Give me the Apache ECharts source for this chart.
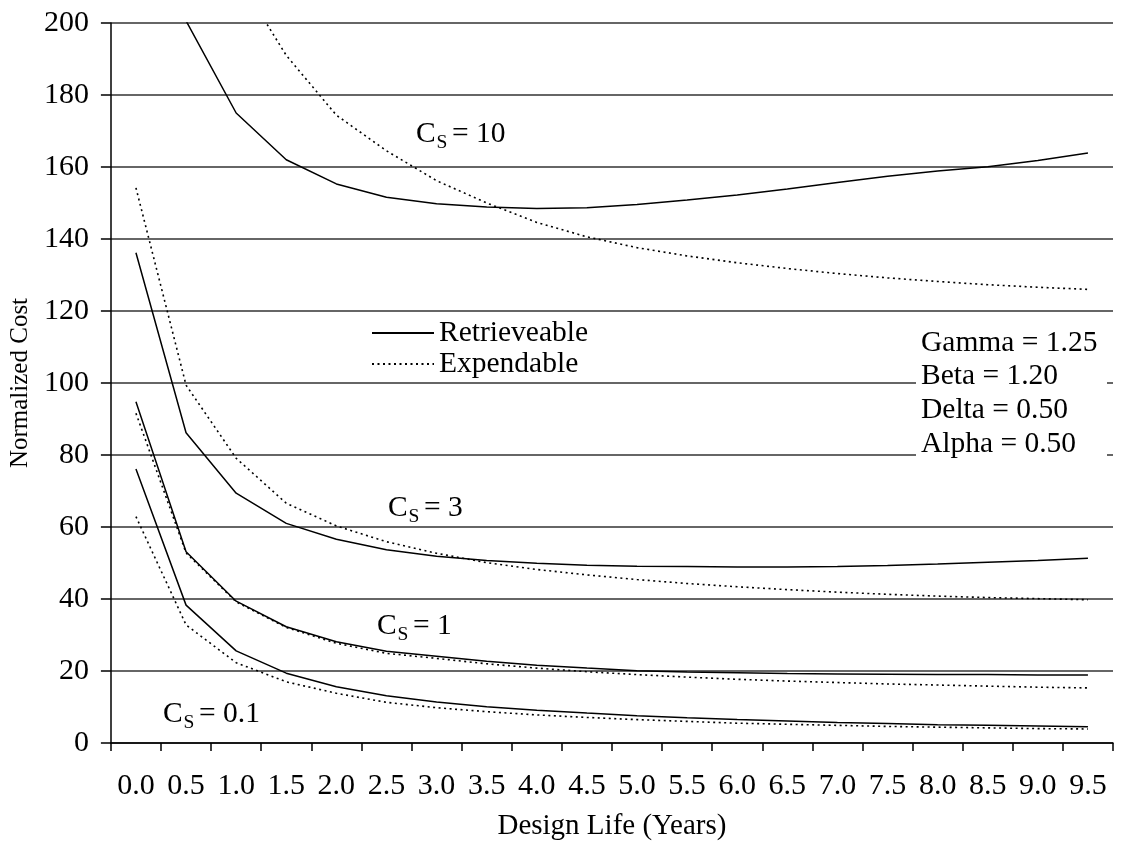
<!DOCTYPE html>
<html>
<head>
<meta charset="utf-8">
<title>Normalized Cost vs Design Life</title>
<script src="https://cdn.jsdelivr.net/npm/echarts@6/dist/echarts.min.js"></script>
<style>
    html, body { margin: 0; padding: 0; background: #fff; }
    #chart1 { width: 1131px; height: 846px; }
</style>
</head>
<body>
<div id="chart1"></div>
<script>
// design life categories (years)
var years = ['0.0', '0.5', '1.0', '1.5', '2.0', '2.5', '3.0', '3.5', '4.0', '4.5',
    '5.0', '5.5', '6.0', '6.5', '7.0', '7.5', '8.0', '8.5', '9.0', '9.5'];

// Cs = 10
var retr10 = [392, 200.6, 175, 162, 155.3, 151.6, 149.8, 148.9, 148.5, 148.7,
    149.6, 150.8, 152.2, 153.9, 155.7, 157.4, 158.9, 160.1, 161.8, 163.9];
var expe10 = [560, 262, 213.5, 191, 174.4, 164.5, 156.2, 150, 144.6, 140.6,
    137.6, 135.3, 133.4, 131.8, 130.4, 129.2, 128.2, 127.3, 126.6, 126.0];
// Cs = 3
var retr3 = [136.2, 86.2, 69.4, 61.0, 56.6, 53.7, 51.9, 50.7, 49.9, 49.4,
    49.1, 49.0, 48.9, 48.9, 49.0, 49.3, 49.7, 50.2, 50.7, 51.3];
var expe3 = [154.2, 99.4, 79.1, 66.6, 60.3, 55.9, 52.7, 50.1, 48.2, 46.7,
    45.4, 44.3, 43.4, 42.6, 41.9, 41.3, 40.8, 40.4, 40.1, 39.8];
// Cs = 1
var retr1 = [94.8, 53.1, 39.4, 32.3, 28.1, 25.5, 24.1, 22.7, 21.6, 20.8,
    20.1, 19.7, 19.5, 19.3, 19.2, 19.1, 19.0, 19.0, 18.9, 18.9];
var expe1 = [91.6, 52.8, 39.2, 32.1, 27.7, 24.9, 23.5, 22.0, 20.8, 19.8,
    19.0, 18.3, 17.7, 17.2, 16.8, 16.4, 16.1, 15.8, 15.5, 15.3];
// Cs = 0.1
var retr01 = [76.1, 38.3, 25.6, 19.4, 15.6, 13.1, 11.4, 10.1, 9.1, 8.3,
    7.6, 7.0, 6.5, 6.1, 5.7, 5.4, 5.1, 4.9, 4.7, 4.5];
var expe01 = [62.9, 32.8, 22.3, 17.0, 13.8, 11.3, 9.8, 8.7, 7.8, 7.1,
    6.5, 6.0, 5.5, 5.2, 4.9, 4.6, 4.4, 4.2, 4.0, 3.9];

var curveLabels = [
    { sub: 'S', rest: '= 10', x: 416, y: 134 },
    { sub: 'S', rest: '= 3', x: 388, y: 508 },
    { sub: 'S', rest: '= 1', x: 377, y: 626 },
    { sub: 'S', rest: '= 0.1', x: 163, y: 714 }
];
var params = ['Gamma = 1.25', 'Beta = 1.20', 'Delta = 0.50', 'Alpha = 0.50'];

var FONT = '"Liberation Serif", "Times New Roman", serif';

var chart = {
    init: function () {
        var mychart = echarts.init(document.getElementById('chart1'));
        mychart.setOption(this.buildOption());
    },
    line: function (name, data, dotted) {
        return {
            name: name,
            type: 'line',
            data: data,
            symbol: 'none',
            smooth: false,
            clip: true,
            itemStyle: { color: '#000' },
            lineStyle: {
                color: '#000',
                width: dotted ? 1.6 : 1.5,
                type: dotted ? [2, 3.5] : 'solid'
            }
        };
    },
    buildLabels: function () {
        var out = [];
        curveLabels.forEach(function (c) {
            out.push({
                type: 'group',
                x: c.x,
                y: c.y,
                z: 50,
                children: [
                    { type: 'text', x: 0, y: 0, style: { text: 'C', font: '29.5px ' + FONT, fill: '#000', verticalAlign: 'middle' } },
                    { type: 'text', x: 20.5, y: 9, style: { text: c.sub, font: '19.5px ' + FONT, fill: '#000', verticalAlign: 'middle' } },
                    { type: 'text', x: 36, y: 0, style: { text: c.rest, font: '29.5px ' + FONT, fill: '#000', verticalAlign: 'middle' } }
                ]
            });
        });
        // parameter box (white background hides the grid lines behind it)
        out.push({
            type: 'rect',
            z: 50,
            shape: { x: 916, y: 325, width: 191, height: 145 },
            style: { fill: '#fff' }
        });
        out.push({
            type: 'text',
            z: 51,
            x: 921,
            y: 326,
            style: {
                text: params.join('\n'),
                font: '29.5px ' + FONT,
                lineHeight: 33.7,
                fill: '#000'
            }
        });
        return out;
    },
    buildOption: function () {
        return {
            animation: false,
            backgroundColor: '#fff',
            grid: { left: 110, right: 18, top: 23, bottom: 103 },
            legend: {
                data: ['Retrieveable', 'Expendable'],
                orient: 'vertical',
                left: 366,
                top: 313,
                itemWidth: 62,
                itemHeight: 14,
                itemGap: 1,
                itemStyle: { opacity: 0 },
                textStyle: { color: '#000', fontSize: 29.5, fontFamily: FONT }
            },
            xAxis: {
                type: 'category',
                data: years,
                boundaryGap: true,
                name: 'Design Life (Years)',
                nameLocation: 'middle',
                nameGap: 69,
                nameTextStyle: { color: '#000', fontSize: 29, fontFamily: FONT },
                axisLine: { lineStyle: { color: '#000', width: 1.5 } },
                axisTick: { show: true, length: 8, interval: 0, lineStyle: { color: '#000', width: 1.5 } },
                axisLabel: { interval: 0, margin: 28, color: '#000', fontSize: 30, fontFamily: FONT },
                splitLine: { show: false }
            },
            yAxis: {
                type: 'value',
                min: 0,
                max: 200,
                interval: 20,
                name: 'Normalized Cost',
                nameLocation: 'middle',
                nameGap: 73,
                nameTextStyle: { color: '#000', fontSize: 25, fontFamily: FONT },
                axisLine: { show: true, lineStyle: { color: '#000', width: 1.5 } },
                axisTick: { show: true, length: 10, lineStyle: { color: '#000', width: 1.5 } },
                axisLabel: { margin: 22, color: '#000', fontSize: 30, fontFamily: FONT },
                splitLine: { show: true, lineStyle: { color: '#333', width: 1.5 } }
            },
            graphic: this.buildLabels(),
            series: [
                this.line('Retrieveable', retr10, false),
                this.line('Expendable', expe10, true),
                this.line('Retrieveable', retr3, false),
                this.line('Expendable', expe3, true),
                this.line('Retrieveable', retr1, false),
                this.line('Expendable', expe1, true),
                this.line('Retrieveable', retr01, false),
                this.line('Expendable', expe01, true)
            ]
        };
    }
};

chart.init();
</script>
</body>
</html>
